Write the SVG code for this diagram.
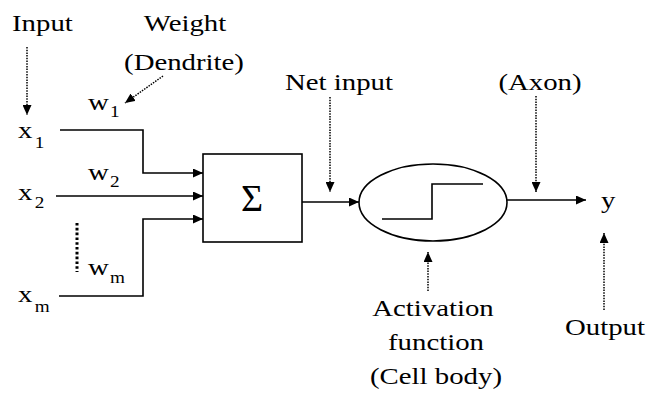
<svg xmlns="http://www.w3.org/2000/svg" width="653" height="396" viewBox="0 0 653 396">
<style>
  text { font-family: "Liberation Serif", "Times New Roman", serif; font-size: 24px; fill: #000; }
  .sub { font-size: 16px; }
  .c { text-anchor: middle; }
  .ln { fill: none; stroke: #000; stroke-width: 1.6; }
  .dot { fill: none; stroke: #000; stroke-width: 1.5; stroke-dasharray: 1.5 1.2; }
  .bigdot { fill: none; stroke: #000; stroke-width: 3; stroke-dasharray: 2.6 2.2; }
</style>
<defs>
  <marker id="ah" markerUnits="userSpaceOnUse" markerWidth="11" markerHeight="9" refX="10" refY="4.5" orient="auto">
    <path d="M0,0 L10,4.5 L0,9 z" fill="#000"/>
  </marker>
</defs>
<rect width="653" height="396" fill="#fff"/>

<g id="connectors">
  <polyline class="ln" points="60,130 143,130 143,173 203,173" marker-end="url(#ah)"/>
  <polyline class="ln" points="56,196 203,196" marker-end="url(#ah)"/>
  <polyline class="ln" points="59,296 143,296 143,219 203,219" marker-end="url(#ah)"/>
  <polyline class="ln" points="302,202 359,202" marker-end="url(#ah)"/>
  <polyline class="ln" points="507,200 586,200" marker-end="url(#ah)"/>
  <line class="dot" x1="27" y1="47" x2="27" y2="115" marker-end="url(#ah)"/>
  <line class="dot" x1="163" y1="76" x2="125" y2="103" marker-end="url(#ah)"/>
  <line class="dot" x1="330" y1="97" x2="330" y2="192" marker-end="url(#ah)"/>
  <line class="dot" x1="536" y1="96" x2="536" y2="192" marker-end="url(#ah)"/>
  <line class="dot" x1="428" y1="291" x2="428" y2="252" marker-end="url(#ah)"/>
  <line class="dot" x1="604" y1="310" x2="604" y2="233" marker-end="url(#ah)"/>
  <line class="bigdot" x1="77" y1="223" x2="77" y2="272"/>
</g>

<g id="inputs">
  <text transform="translate(12,31) scale(1.2,1)">Input</text>
  <text transform="translate(18,138) scale(1.2,1)">x<tspan class="sub" dx="2" dy="10">1</tspan></text>
  <text transform="translate(18,200) scale(1.2,1)">x<tspan class="sub" dx="2" dy="8">2</tspan></text>
  <text transform="translate(18,302) scale(1.2,1)">x<tspan class="sub" dx="2" dy="10">m</tspan></text>
</g>

<g id="weights">
  <text class="c" transform="translate(185,31) scale(1.2,1)">Weight</text>
  <text class="c" transform="translate(184,70) scale(1.2,1)">(Dendrite)</text>
  <text transform="translate(88,110) scale(1.2,1)">w<tspan class="sub" dx="1" dy="7">1</tspan></text>
  <text transform="translate(88,180) scale(1.2,1)">w<tspan class="sub" dx="1" dy="7">2</tspan></text>
  <text transform="translate(88,275) scale(1.2,1)">w<tspan class="sub" dx="1" dy="8">m</tspan></text>
</g>

<g id="sum">
  <rect class="ln" x="203" y="154" width="99" height="88"/>
  <text class="c" x="252" y="211" style="font-size:38px">Σ</text>
</g>

<g id="netinput-label">
  <text class="c" transform="translate(339,90) scale(1.2,1)">Net input</text>
</g>

<g id="activation">
  <ellipse class="ln" cx="433" cy="202.5" rx="74" ry="38.5"/>
  <polyline class="ln" points="382,219 432,219 432,184 483,184"/>
  <text class="c" transform="translate(433,316) scale(1.2,1)">Activation</text>
  <text class="c" transform="translate(436,350) scale(1.2,1)">function</text>
  <text class="c" transform="translate(436,384) scale(1.2,1)">(Cell body)</text>
</g>

<g id="axon-label">
  <text class="c" transform="translate(540,90) scale(1.2,1)">(Axon)</text>
</g>

<g id="output">
  <text transform="translate(601,208) scale(1.2,1)">y</text>
  <text class="c" transform="translate(605,335) scale(1.2,1)">Output</text>
</g>
</svg>
